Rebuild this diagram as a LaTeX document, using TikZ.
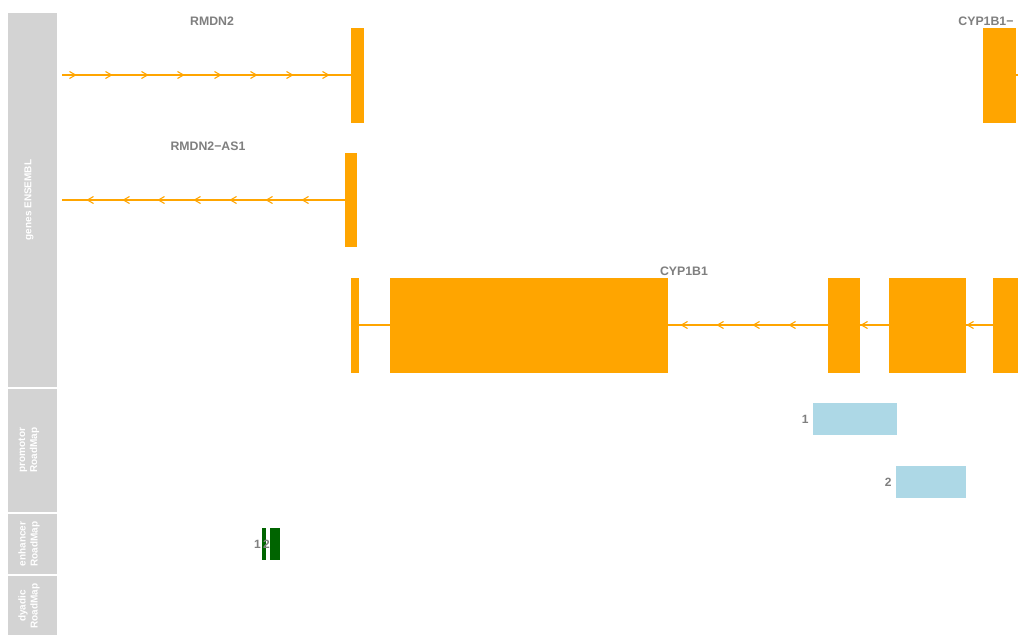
\documentclass[tikz,border=0pt]{standalone}
\usepackage{fontspec}
\setmainfont{Liberation Sans}
\definecolor{exon}{HTML}{FFA500}
\definecolor{panelgray}{HTML}{D3D3D3}
\definecolor{labgray}{HTML}{7F7F7F}
\definecolor{prom}{HTML}{ADD8E6}
\definecolor{enh}{HTML}{006400}
\begin{document}
\begin{tikzpicture}[x=1pt,y=-1pt,
  panel/.style={fill=panelgray,draw=none},
  paneltext/.style={text=white,font=\bfseries\fontsize{10}{12}\selectfont,rotate=90,align=center},
  genelab/.style={text=labgray,font=\bfseries\fontsize{12.3}{14}\selectfont},
  exonbox/.style={fill=exon,draw=none},
  intron/.style={draw=exon,line width=1.3pt},
  chev/.style={draw=exon,line width=1.1pt},
  featlab/.style={text=labgray,font=\bfseries\fontsize{12}{14}\selectfont}]
\useasboundingbox[fill=white] (0,0) rectangle (1018,635);
% side panels
\fill[panel] (8,13) rectangle (57,387);
\fill[panel] (8,389) rectangle (57,512);
\fill[panel] (8,514) rectangle (57,574);
\fill[panel] (8,576) rectangle (57,635);
\node[paneltext] (p1) at (29,200) {genes ENSEMBL};
\node[paneltext] (p2) at (29,450) {promotor\\RoadMap};
\node[paneltext] (p3) at (29,544) {enhancer\\RoadMap};
\node[paneltext] (p4) at (29,606) {dyadic\\RoadMap};
% RMDN2
\draw[intron] (62,75) -- (351,75);
\foreach \x in {73,109,145,181,218,254,290,326}
  \draw[chev] (\x-3.5,71.5) -- (\x+2.5,75) -- (\x-3.5,78.5);
\fill[exonbox] (351,28) rectangle (364,123);
\node[genelab] (g1) at (212,21) {RMDN2};
% CYP1B1-AS1 (right, clipped)
\fill[exonbox] (983,28) rectangle (1016,123);
\draw[intron] (1016,75) -- (1018,75);
\node[genelab,anchor=east] (g4) at (1017,21) {CYP1B1−};
% RMDN2-AS1
\draw[intron] (62,200) -- (345,200);
\foreach \x in {90,126,161,197,233,269,305}
  \draw[chev] (\x+3.5,196.5) -- (\x-2.5,200) -- (\x+3.5,203.5);
\fill[exonbox] (345,153) rectangle (357,247);
\node[genelab] (g2) at (208,146) {RMDN2−AS1};
% CYP1B1
\draw[intron] (359,325) -- (993,325);
\foreach \x in {684,720,756,792,864,970}
  \draw[chev] (\x+3.5,321.5) -- (\x-2.5,325) -- (\x+3.5,328.5);
\fill[exonbox] (351,278) rectangle (359,373);
\fill[exonbox] (390,278) rectangle (668,373);
\fill[exonbox] (828,278) rectangle (860,373);
\fill[exonbox] (889,278) rectangle (966,373);
\fill[exonbox] (993,278) rectangle (1018,373);
\node[genelab] (g3) at (684,271) {CYP1B1};
% promoters
\fill[prom] (813,403) rectangle (897,435);
\node[featlab,anchor=east] (pr1) at (812,419) {1};
\fill[prom] (896,466) rectangle (966,498);
\node[featlab,anchor=east] (pr2) at (895,482) {2};
% enhancers
\fill[enh] (262,528) rectangle (266,560);
\fill[enh] (270,528) rectangle (280,560);
\node[featlab] (e1) at (257.5,544) {1};
\node[featlab] (e2) at (266.5,544) {2};
\end{tikzpicture}
\end{document}
